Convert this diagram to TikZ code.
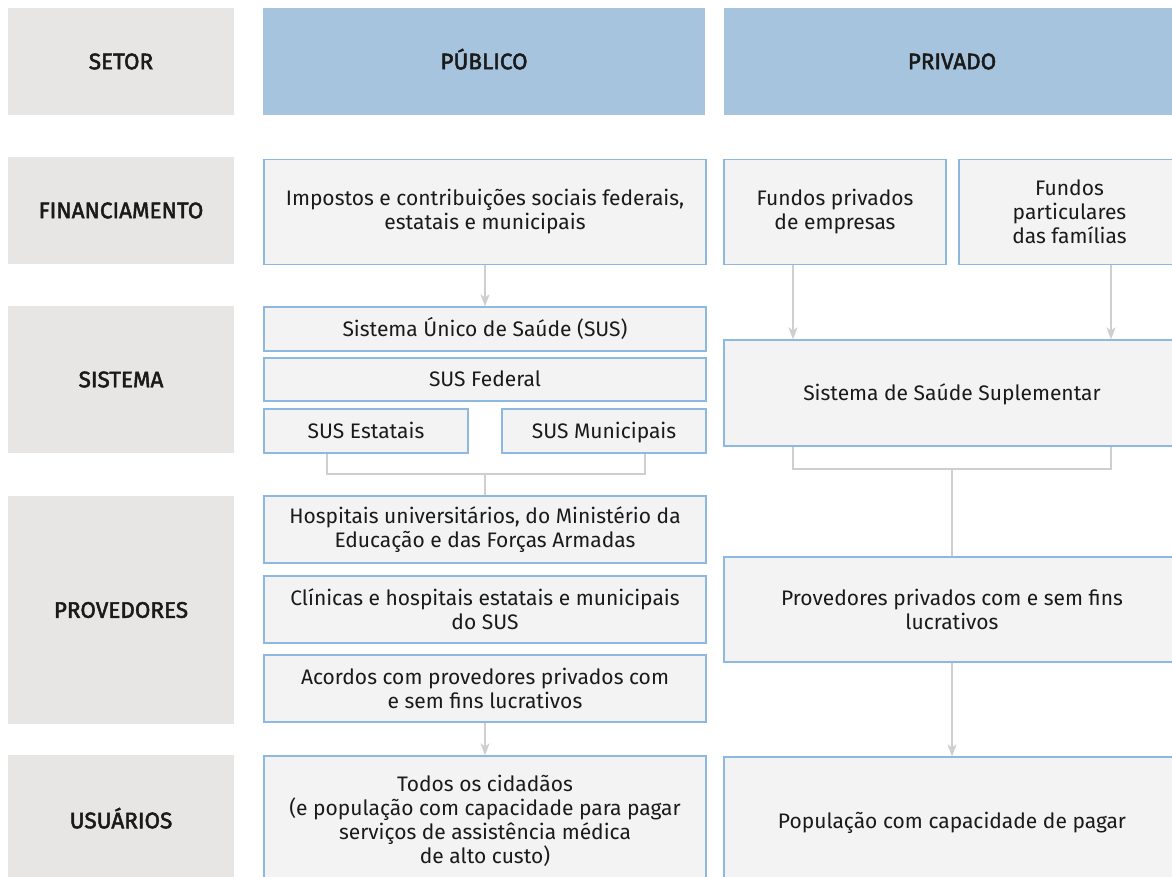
\documentclass[tikz,border=0pt]{standalone}
\usepackage{fontspec}
\setmainfont{Fira Sans}
\newfontface\headfont{Fira Sans}[FakeBold=2.2]
\usetikzlibrary{arrows.meta}
\definecolor{labelgray}{HTML}{E7E6E5}
\definecolor{headblue}{HTML}{A7C4DE}
\definecolor{boxfill}{HTML}{F3F3F3}
\definecolor{boxline}{HTML}{8DB8E0}
\definecolor{connline}{HTML}{CFCFCF}
\definecolor{txt}{HTML}{1A1A1A}
\tikzset{
  lbl/.style={fill=labelgray, draw=none, inner sep=0pt, text=txt, text height=15.5pt, text depth=0pt, font=\headfont\fontsize{22.5}{26}\selectfont},
  head/.style={lbl, fill=headblue},
  pbox/.style={fill=boxfill, draw=boxline, line width=1.2pt, inner sep=0pt, text=txt, font=\fontsize{21}{24}\selectfont},
  multi/.style={align=center},
  oneline/.style={text height=14.5pt, text depth=0pt},
  conn/.style={draw=connline, line width=1.6pt},
  arr/.style={conn, -{Stealth[length=12pt,width=9pt,inset=3pt]}}
}
\begin{document}
\begin{tikzpicture}[x=1pt,y=-1pt]
\useasboundingbox (0,0) rectangle (1172,877);
\clip (0,0) rectangle (1172,877);
% headers
\node[lbl, minimum width=226pt, minimum height=107pt] (setor) at (121,61.5) {SETOR};
\node[head, minimum width=442pt, minimum height=107pt] (pub) at (484,61.5) {PÚBLICO};
\node[head, minimum width=456pt, minimum height=107pt] (priv) at (952,61.5) {PRIVADO};
% row labels
\node[lbl, minimum width=226pt, minimum height=107pt] (lfin) at (121,210.5) {FINANCIAMENTO};
\node[lbl, minimum width=226pt, minimum height=147pt] (lsis) at (121,379.5) {SISTEMA};
\node[lbl, minimum width=226pt, minimum height=228pt] (lprov) at (121,610) {PROVEDORES};
\node[lbl, minimum width=226pt, minimum height=131pt] (lusu) at (121,820.5) {USUÁRIOS};
% financing
\node[pbox, multi, minimum width=442pt, minimum height=105pt] (fin) at (485,212) {Impostos e contribuições sociais federais,\\estatais e municipais};
\node[pbox, multi, minimum width=222pt, minimum height=105pt] (fpriv) at (835,212) {Fundos privados\\de empresas};
\node[pbox, multi, minimum width=221pt, minimum height=105pt] (fpart) at (1069.5,212) {Fundos\\particulares\\das famílias};
% system
\node[pbox, oneline, minimum width=442pt, minimum height=44pt] (sus) at (485,329) {Sistema Único de Saúde (SUS)};
\node[pbox, oneline, minimum width=442pt, minimum height=43pt] (susfed) at (485,379.5) {SUS Federal};
\node[pbox, oneline, minimum width=204pt, minimum height=44pt] (susest) at (366,431) {SUS Estatais};
\node[pbox, oneline, minimum width=204pt, minimum height=44pt] (susmun) at (604,431) {SUS Municipais};
\node[pbox, oneline, minimum width=456pt, minimum height=106pt] (supl) at (952,393) {Sistema de Saúde Suplementar};
% providers
\node[pbox, multi, minimum width=442pt, minimum height=67pt] (hosp) at (485,529.5) {Hospitais universitários, do Ministério da\\Educação e das Forças Armadas};
\node[pbox, multi, minimum width=442pt, minimum height=67pt] (clin) at (485,609.5) {Clínicas e hospitais estatais e municipais\\do SUS};
\node[pbox, multi, minimum width=442pt, minimum height=67pt] (acord) at (485,688.5) {Acordos com provedores privados com\\e sem fins lucrativos};
\node[pbox, multi, minimum width=456pt, minimum height=105pt] (provpriv) at (952,609.5) {Provedores privados com e sem fins\\lucrativos};
% users
\node[pbox, multi, minimum width=442pt, minimum height=130pt] (todos) at (485,821) {Todos os cidadãos\\(e população com capacidade para pagar\\serviços de assistência médica\\de alto custo)};
\node[pbox, oneline, minimum width=456pt, minimum height=129pt] (popul) at (952,821.5) {População com capacidade de pagar};
% connector helper coordinates
\coordinate (xa) at (793,0);
\coordinate (xb) at (1111,0);
\coordinate (xc) at (327,0);
\coordinate (xd) at (645,0);
\coordinate (pubjoin) at (485,474);
\coordinate (privjoin) at (952,469);
% connectors
\draw[arr] (fin.south) -- (sus.north);
\draw[arr] (fpriv.south -| xa) -- (supl.north -| xa);
\draw[arr] (fpart.south -| xb) -- (supl.north -| xb);
\draw[conn] (susest.south -| xc) |- (pubjoin) -| (susmun.south -| xd);
\draw[conn] (pubjoin) -- (hosp.north);
\draw[conn] (supl.south -| xa) |- (privjoin) -| (supl.south -| xb);
\draw[conn] (privjoin) -- (provpriv.north);
\draw[arr] (acord.south) -- (todos.north);
\draw[arr] (provpriv.south) -- (popul.north);
\end{tikzpicture}
\end{document}
